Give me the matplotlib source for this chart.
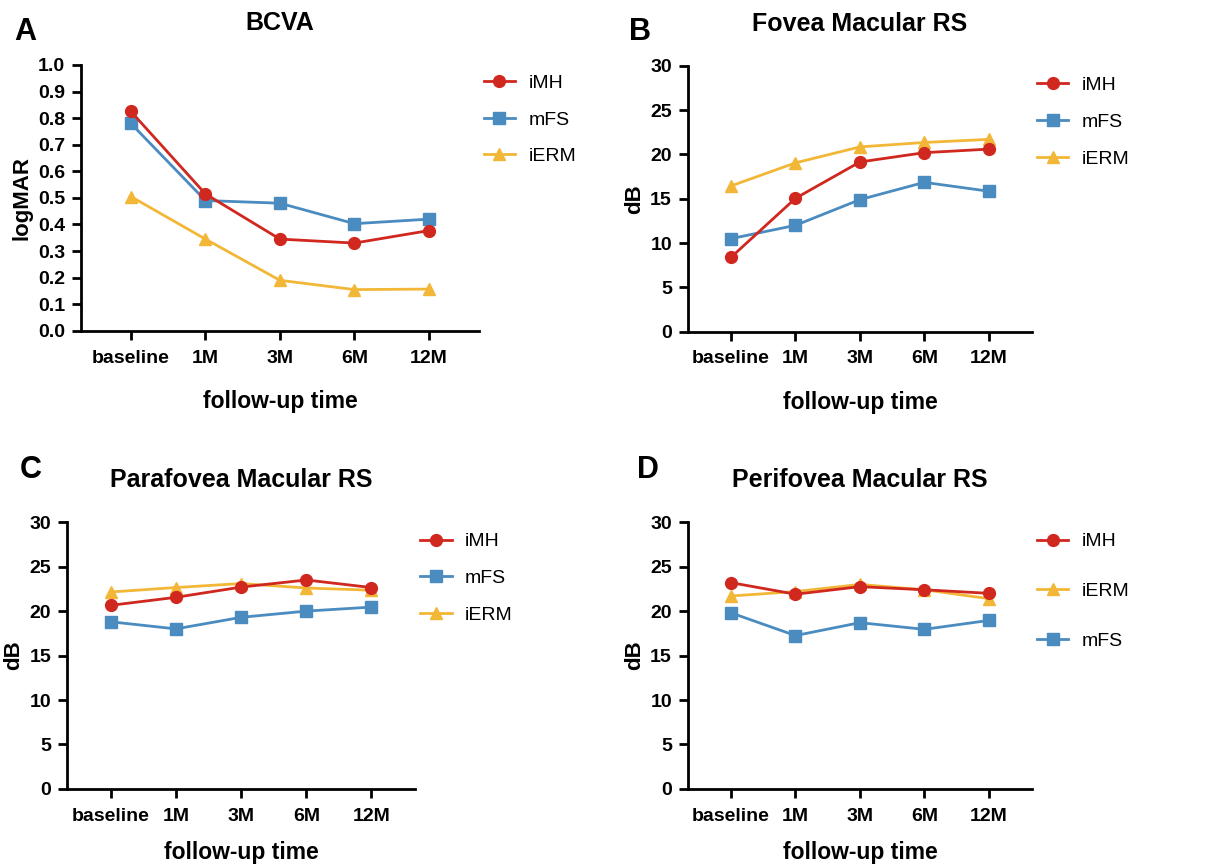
import matplotlib
matplotlib.use("Agg")
from matplotlib import pyplot as plt

plt.rcParams["font.family"] = ["Liberation Sans", "DejaVu Sans"]

times = ["baseline", "1M", "3M", "6M", "12M"]

# BCVA (logMAR)
bcva_imh = [0.825, 0.515, 0.345, 0.33, 0.377]
bcva_mfs = [0.78, 0.49, 0.48, 0.403, 0.42]
bcva_ierm = [0.505, 0.345, 0.19, 0.155, 0.157]

# Fovea macular RS (dB)
fovea_imh = [8.4, 15.05, 19.15, 20.2, 20.6]
fovea_mfs = [10.5, 12.0, 14.9, 16.85, 15.85]
fovea_ierm = [16.45, 19.05, 20.85, 21.35, 21.7]

# Parafovea macular RS (dB)
para_imh = [20.65, 21.55, 22.7, 23.5, 22.65]
para_mfs = [18.8, 18.0, 19.3, 20.0, 20.45]
para_ierm = [22.15, 22.65, 23.1, 22.6, 22.35]

# Perifovea macular RS (dB)
peri_imh = [23.2, 21.9, 22.75, 22.4, 22.0]
peri_mfs = [19.8, 17.25, 18.7, 17.95, 18.95]
peri_ierm = [21.7, 22.2, 23.0, 22.4, 21.4]

red = "#D0271F"
blue = "#4A8BC0"
yellow = "#F2B737"

fig = plt.figure(figsize=(12.09, 8.66), dpi=100)

def panel(rect, letter, letter_xy, title, imh, mfs, ierm, ylim, yticks, ylabel,
          leg_order, leg_anchor, leg_space, xpad=17):
    ax = fig.add_axes(rect)
    x = list(range(len(times)))
    l_mfs, = ax.plot(x, mfs, color=blue, marker="s", markersize=8.5, lw=2, label="mFS")
    l_ierm, = ax.plot(x, ierm, color=yellow, marker="^", markersize=9, lw=2, label="iERM")
    l_imh, = ax.plot(x, imh, color=red, marker="o", markersize=8.5, lw=2, label="iMH")
    lines = {"iMH": l_imh, "mFS": l_mfs, "iERM": l_ierm}
    ax.set_xlim(-0.67, 4.67)
    ax.set_ylim(*ylim)
    ax.set_yticks(yticks)
    ax.set_xticks(x)
    ax.set_xticklabels(times)
    for s in ["top", "right"]:
        ax.spines[s].set_visible(False)
    for s in ["left", "bottom"]:
        ax.spines[s].set_linewidth(2)
    ax.tick_params(width=2, length=6.5, labelsize=14, pad=5)
    ax.tick_params(axis="x", pad=7)
    for t in ax.get_xticklabels() + ax.get_yticklabels():
        t.set_fontweight("bold")
    ax.set_xlabel("follow-up time", fontsize=16.5, fontweight="bold", labelpad=xpad)
    ax.set_ylabel(ylabel, fontsize=16, fontweight="bold", labelpad=4)
    ax.set_title(title, fontsize=18, fontweight="bold", pad=25)
    ax.legend([lines[k] for k in leg_order], leg_order, loc="upper left",
              bbox_to_anchor=leg_anchor, frameon=False, fontsize=14,
              handlelength=1.6, handletextpad=0.7, labelspacing=leg_space,
              borderpad=0, borderaxespad=0)
    fig.text(letter_xy[0], letter_xy[1], letter, fontsize=22, fontweight="bold",
             ha="left", va="center")
    return ax

bcva_ticks = [i / 10 for i in range(11)]
db_ticks = [0, 5, 10, 15, 20, 25, 30]

panel([0.067, 0.618, 0.329, 0.307], "A", (0.012, 0.963), "BCVA",
      bcva_imh, bcva_mfs, bcva_ierm, (0, 1.0), bcva_ticks, "logMAR",
      ["iMH", "mFS", "iERM"], (1.013, 0.965), 0.98)
panel([0.569, 0.617, 0.2845, 0.307], "B", (0.52, 0.963), "Fovea Macular RS",
      fovea_imh, fovea_mfs, fovea_ierm, (0, 30), db_ticks, "dB",
      ["iMH", "mFS", "iERM"], (1.015, 0.96), 1.0)
panel([0.0554, 0.089, 0.288, 0.308], "C", (0.016, 0.457), "Parafovea Macular RS",
      para_imh, para_mfs, para_ierm, (0, 30), db_ticks, "dB",
      ["iMH", "mFS", "iERM"], (1.015, 0.96), 0.98, xpad=12)
panel([0.569, 0.089, 0.2845, 0.308], "D", (0.527, 0.457), "Perifovea Macular RS",
      peri_imh, peri_mfs, peri_ierm, (0, 30), db_ticks, "dB",
      ["iMH", "iERM", "mFS"], (1.015, 0.96), 1.65, xpad=12)

fig.savefig("out.png", dpi=100)
